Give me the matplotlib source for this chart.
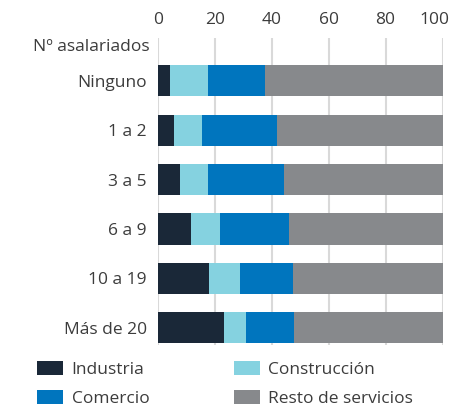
import numpy as np
import matplotlib.pyplot as plt
from matplotlib.patches import Patch
from matplotlib.transforms import ScaledTranslation

plt.rcParams['font.family'] = ['Open Sans', 'DejaVu Sans']

# ---------- Data ----------
categories = ["Ninguno", "1 a 2", "3 a 5", "6 a 9", "10 a 19", "Más de 20"]
industria = [4.1, 5.5, 7.6, 11.5, 17.8, 23.1]
construccion = [13.4, 9.9, 9.9, 10.2, 10.9, 7.7]
comercio = [20.0, 26.3, 26.7, 24.3, 18.7, 16.9]
resto = [62.5, 58.3, 55.8, 54.0, 52.6, 52.3]

series = ["Industria", "Construcción", "Comercio", "Resto de servicios"]
colors = ["#1a2838", "#85d2e0", "#0075be", "#87898c"]
text_color = "#3c3c3c"

# ---------- Plot ----------
fig = plt.figure(figsize=(4.52, 4.07), dpi=100)
ax = fig.add_axes([158 / 452, 1 - 345 / 407, 284.5 / 452, (345 - 38) / 407])

y = np.arange(len(categories))
left = np.zeros(len(categories))
for vals, name, c in zip([industria, construccion, comercio, resto], series, colors):
    ax.barh(y, vals, left=left, height=0.63, color=c, label=name, zorder=3)
    left += np.array(vals)

ax.set_xlim(0, 100)
ax.set_ylim(5.35, -0.87)
ax.set_xticks([0, 20, 40, 60, 80, 100])
ax.set_yticks(y)
ax.set_yticklabels(categories)
ax.xaxis.tick_top()
ax.tick_params(axis='both', length=0, labelsize=12.5, colors=text_color)
ax.tick_params(axis='x', pad=7)
ax.tick_params(axis='y', pad=8)
ax.grid(axis='x', color="#d9d9d9", linewidth=1.5, zorder=0)
for s in ax.spines.values():
    s.set_visible(False)

# keep the "100" label inside the figure
last = ax.get_xticklabels()[-1]
last.set_transform(last.get_transform() + ScaledTranslation(-8 / 100, 0, fig.dpi_scale_trans))

ax.text(-8 / 2.845, -0.69, "Nº asalariados", ha='right', va='center',
        fontsize=12.5, color=text_color)

order = [0, 2, 1, 3]
handles = [Patch(facecolor=colors[i], label=series[i]) for i in order]
fig.legend(handles=handles, ncol=2, loc='upper left',
           bbox_to_anchor=(37 / 452, 1 - 361 / 407), frameon=False,
           fontsize=12.5, labelcolor=text_color, handlelength=1.5,
           handleheight=0.84, handletextpad=0.5, columnspacing=4.85,
           labelspacing=0.7, borderpad=0, borderaxespad=0)

fig.savefig("out.png", dpi=100)
